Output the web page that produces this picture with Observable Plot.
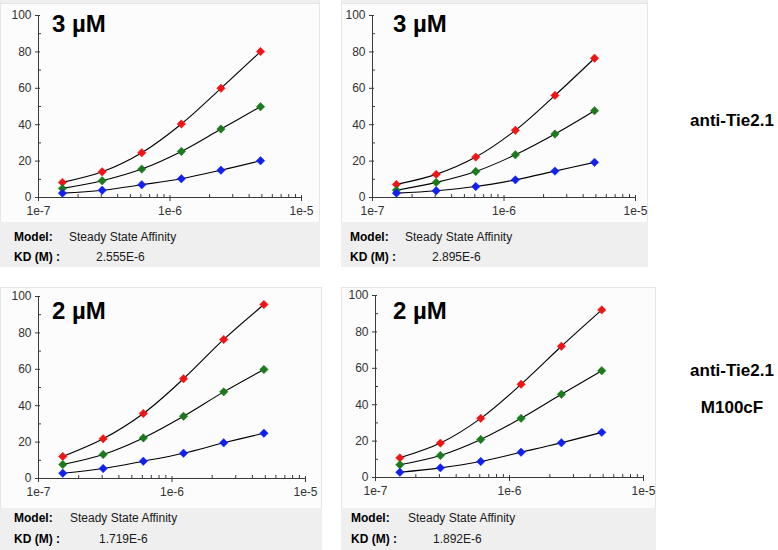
<!DOCTYPE html>
<html><head><meta charset="utf-8">
<script src="https://cdn.jsdelivr.net/npm/d3@7"></script>
<script src="https://cdn.jsdelivr.net/npm/@observablehq/plot@0.6"></script>
<style>
body{margin:0;background:#fff;font-family:"Liberation Sans",Arial,sans-serif;}
#page{position:relative;width:778px;height:550px;overflow:hidden;background:#fff;}
.box{position:absolute;box-sizing:border-box;}
.chartbg{background:#fcfcfc;border:1px solid #e6e6e6;border-bottom:none;}
.info{background:#efefef;}
.t{position:absolute;white-space:nowrap;color:#1a1a1a;}
.title{font-size:24px;font-weight:bold;line-height:24px;color:#000;}
.lab{font-size:12px;line-height:14px;}
.lab b{font-weight:bold;color:#000;}
.side{font-size:17px;font-weight:bold;line-height:20px;width:110px;text-align:center;color:#000;}
</style></head><body><div id="page"></div>
<script>
// ---- data ----
const conc = [1.52e-7, 3.05e-7, 6.1e-7, 1.22e-6, 2.44e-6, 4.88e-6];
const seriesNames = ["red", "green", "blue"];
const seriesColors = ["#f21414", "#1b7a1b", "#1020f0"];

const aRed   = [8.3, 14.1, 24.6, 40.4, 60.0, 80.2];
const aGreen = [5.0, 9.2, 15.6, 25.3, 37.6, 49.9];
const aBlue  = [2.4, 4.0, 7.0, 10.3, 15.0, 20.2];

const bRed   = [7.2, 12.7, 22.2, 36.9, 56.1, 76.5];
const bGreen = [4.0, 8.3, 14.3, 23.5, 34.9, 47.7];
const bBlue  = [2.4, 3.7, 6.0, 9.7, 14.5, 19.3];

const cRed   = [12.1, 21.8, 35.7, 54.8, 76.4, 95.6];
const cGreen = [7.7, 13.2, 22.3, 34.2, 47.6, 59.9];
const cBlue  = [2.9, 5.5, 9.5, 13.9, 19.6, 24.9];

const dRed   = [10.8, 18.9, 32.5, 51.2, 72.1, 92.1];
const dGreen = [7.0, 12.1, 20.9, 32.5, 45.7, 58.7];
const dBlue  = [2.9, 5.3, 8.8, 13.9, 19.1, 24.8];

const titles = ["3 µM", "3 µM", "2 µM", "2 µM"];
const kdValues = ["2.555E-6", "2.895E-6", "1.719E-6", "1.892E-6"];
const modelName = "Steady State Affinity";
const sideLabels = ["anti-Tie2.1", "anti-Tie2.1", "M100cF"];

const xMajor = [1e-7, 1e-6, 1e-5];
const xLabels = ["1e-7", "1e-6", "1e-5"];
const xMinor = [2e-7,3e-7,4e-7,5e-7,6e-7,7e-7,8e-7,9e-7,2e-6,3e-6,4e-6,5e-6,6e-6,7e-6,8e-6,9e-6];
const yMajor = [0, 20, 40, 60, 80, 100];
const yMinor = [10, 30, 50, 70, 90];

// ---- layout ----
const panels = [
  {series:[aRed,aGreen,aBlue], left:0,   top:3,   w:320, h:219, ml:38, mr:19, mt:12, mb:25, infoH:45,
   titleX:52, titleY:12, modelX:14, valX:69, kdValX:96, row1:230, row2:250},
  {series:[bRed,bGreen,bBlue], left:341, top:3,   w:307, h:219, ml:31, mr:13, mt:12, mb:25, infoH:45,
   titleX:393, titleY:12, modelX:350, valX:405, kdValX:432, row1:230, row2:250},
  {series:[cRed,cGreen,cBlue], left:0,   top:287, w:322, h:221, ml:38, mr:17, mt:9,  mb:30, infoH:42,
   titleX:52, titleY:299, modelX:14, valX:70, kdValX:99, row1:511, row2:532},
  {series:[dRed,dGreen,dBlue], left:341, top:287, w:315, h:221, ml:34, mr:13, mt:8,  mb:31, infoH:42,
   titleX:393, titleY:299, modelX:351, valX:408, kdValX:433, row1:511, row2:532}
];

const page = document.getElementById("page");
function el(cls, css, html) {
  const d = document.createElement("div");
  d.className = cls;
  Object.assign(d.style, css);
  if (html != null) d.innerHTML = html;
  page.appendChild(d);
  return d;
}

// top strips (bottom of panels cropped above)
el("box info", {left:"0px", top:"0px", width:"320px", height:"3px"});
el("box info", {left:"341px", top:"0px", width:"307px", height:"3px"});

panels.forEach((p, pi) => {
  el("box chartbg", {left:p.left+"px", top:p.top+"px", width:p.w+"px", height:p.h+"px"});
  el("box info", {left:p.left+"px", top:(p.top+p.h)+"px", width:p.w+"px", height:p.infoH+"px"});

  const data = [];
  p.series.forEach((arr, si) => arr.forEach((v, i) => data.push({x: conc[i], y: v, s: seriesNames[si]})));

  const marks = [
    Plot.ruleY([0], {stroke: "#3a3a3a", strokeWidth: 1}),
    Plot.ruleX([1e-7], {stroke: "#3a3a3a", strokeWidth: 1}),
    Plot.axisX({ticks: xMajor, tickFormat: d => xLabels[xMajor.indexOf(d)], tickSize: 6, dy: -2, tickPadding: 5, stroke: "#3a3a3a", fill: "#333", label: null}),
    Plot.axisX({ticks: xMinor, tickSize: 3, dy: -3, text: null, stroke: "#3a3a3a", label: null}),
    Plot.axisY({ticks: yMajor, tickSize: 5, dx: 2, tickPadding: 4, stroke: "#3a3a3a", fill: "#333", label: null}),
    Plot.axisY({ticks: yMinor, tickSize: 3, dx: 3, text: null, stroke: "#3a3a3a", label: null})
  ];
  seriesNames.forEach((s, si) => {
    marks.push(Plot.line(data.filter(d => d.s === s), {x: "x", y: "y", stroke: "#000", strokeWidth: 1.1, curve: "catmull-rom"}));
  });
  seriesNames.forEach((s, si) => {
    marks.push(Plot.dot(data.filter(d => d.s === s), {x: "x", y: "y", symbol: "diamond2", r: 3.8, fill: seriesColors[si], stroke: seriesColors[si], strokeWidth: 0.5}));
  });

  const svg = Plot.plot({
    width: p.w, height: p.h,
    marginLeft: p.ml, marginRight: p.mr, marginTop: p.mt, marginBottom: p.mb,
    x: {type: "log", domain: [1e-7, 1e-5], label: null},
    y: {domain: [0, 100], label: null},
    style: {background: "transparent", fontFamily: "'Liberation Sans', Arial, sans-serif", fontSize: "12px", color: "#333", overflow: "visible"},
    marks
  });
  svg.style.position = "absolute";
  svg.style.left = p.left + "px";
  svg.style.top = p.top + "px";
  page.appendChild(svg);

  el("t title", {left: p.titleX+"px", top: p.titleY+"px"}, titles[pi]);
  el("t lab", {left: p.modelX+"px", top: p.row1+"px"}, "<b>Model:</b>");
  el("t lab", {left: p.valX+"px", top: p.row1+"px"}, modelName);
  el("t lab", {left: p.modelX+"px", top: p.row2+"px"}, "<b>KD (M) :</b>");
  el("t lab", {left: p.kdValX+"px", top: p.row2+"px"}, kdValues[pi]);
});

el("t side", {left: "677px", top: "111px"}, sideLabels[0]);
el("t side", {left: "677px", top: "361px"}, sideLabels[1]);
el("t side", {left: "677px", top: "398px"}, sideLabels[2]);
</script></body></html>
